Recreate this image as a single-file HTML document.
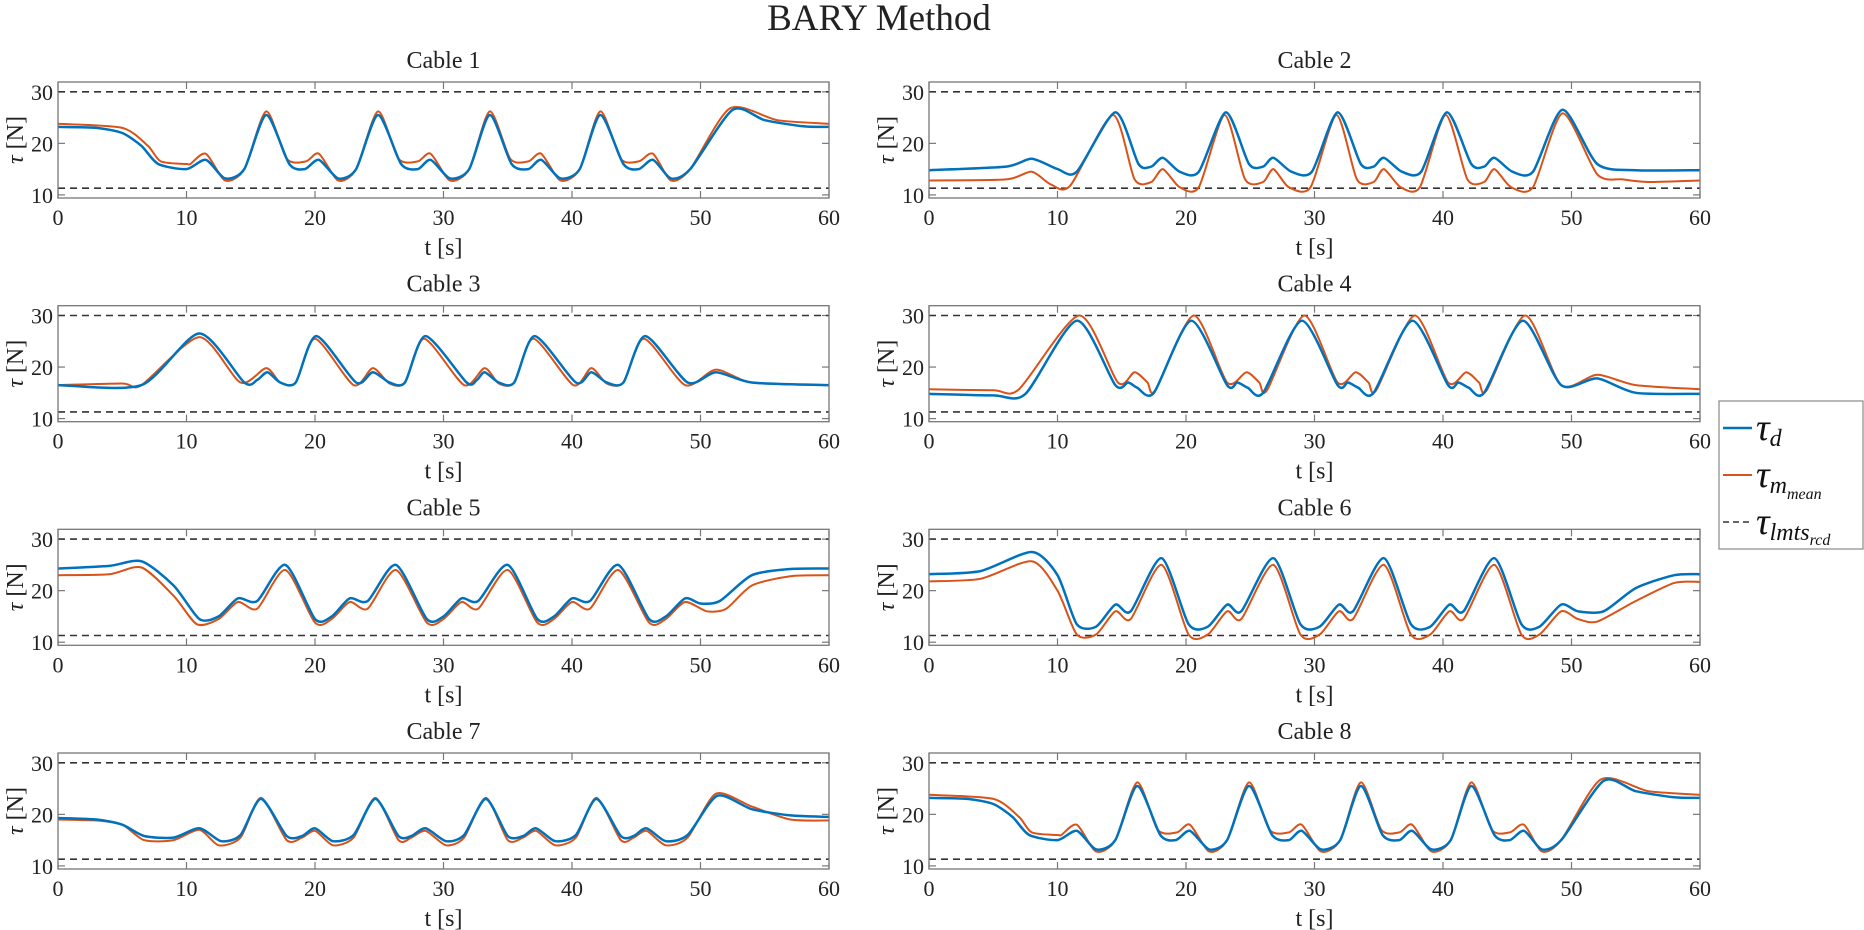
<!DOCTYPE html>
<html><head><meta charset="utf-8"><style>
body{margin:0;background:#fff;}
svg{display:block;font-family:"Liberation Serif","DejaVu Serif",serif;}
</style></head><body>
<svg id="fig" width="1864" height="930" viewBox="0 0 1864 930">
<text x="879" y="30" font-size="37" text-anchor="middle" fill="#222">BARY Method</text>
<g id="plots"></g>
<g>
<rect x="1719" y="401" width="144" height="148" fill="#fff" stroke="#888" stroke-width="1.2"/>
<line x1="1723" y1="428" x2="1752" y2="428" stroke="#0072BD" stroke-width="2.5"/>
<text x="1756" y="440" font-size="38" font-style="italic" fill="#111">τ<tspan font-size="24" dy="6">d</tspan></text>
<line x1="1723" y1="475" x2="1752" y2="475" stroke="#D95319" stroke-width="2"/>
<text x="1756" y="487" font-size="38" font-style="italic" fill="#111">τ<tspan font-size="24" dy="6">m</tspan><tspan font-size="16" dy="6">mean</tspan></text>
<line x1="1723" y1="522" x2="1752" y2="522" stroke="#333" stroke-width="1.6" stroke-dasharray="6,4"/>
<text x="1756" y="534" font-size="38" font-style="italic" fill="#111">τ<tspan font-size="24" dy="6">lmts</tspan><tspan font-size="16" dy="5">rcd</tspan></text>
</g>
</svg>
<script>
const xTicks=[0,10,20,30,40,50,60];
const yTicks=[10,20,30];
const limits=[30,11.3];
const cableNames=["Cable 1","Cable 2","Cable 3","Cable 4","Cable 5","Cable 6","Cable 7","Cable 8"];
const c1dT=[0,3,5,6.5,7.8,10,11.5,13,14.5,16.2,18,19.2,20.3,21.8,23.2,24.9,26.7,28,29,30.5,32,33.6,35.3,36.6,37.6,39.1,40.6,42.2,44,45.2,46.3,47.7,49.2,52.5,55,58,60];
const c1dV=[23.2,23,22,19.5,16,15,16.8,13.2,15,25.5,16,15,16.8,13.2,15,25.5,16,15,16.8,13.2,15,25.5,16,15,16.8,13.2,15,25.5,16,15,16.8,13.2,15,26.5,24.5,23.3,23.2];
const c1mT=[0,5,7,8,10,10.3,11.5,13,14.5,16.2,17.8,19.3,20.3,21.8,23.2,24.9,26.5,28,29,30.5,32,33.6,35.2,36.6,37.6,39.1,40.6,42.2,43.8,45.2,46.3,47.7,49.2,52.3,56,60];
const c1mV=[23.8,23,19.5,16.5,16,16,18,12.8,15,26.2,17,16.5,18,12.8,15,26.2,17,16.5,18,12.8,15,26.2,17,16.5,18,12.8,15,26.2,17,16.5,18,12.8,15,26.8,24.5,23.8];
const c2dT=[0,6,8,10,11.5,14.5,16.3,17.3,18.2,19.5,21,23.1,24.9,26,26.8,28.2,29.8,31.8,33.6,34.6,35.4,36.8,38.3,40.3,42.2,43.2,44,45.4,47,49.3,52,55,60];
const c2dV=[14.8,15.5,17,15,14.5,26,16,15.5,17.2,14.5,14.5,26,16,15.5,17.2,14.5,14.5,26,16,15.5,17.2,14.5,14.5,26,16,15.5,17.2,14.5,14.5,26.5,16,14.8,14.8];
const c2mT=[0,6,8,9.5,11,14.3,16,17.3,18.2,19.5,21,23,24.6,26,26.8,28,29.7,31.7,33.3,34.6,35.4,36.7,38.2,40.2,41.9,43.2,44,45.3,47,49.3,52,54,56,60];
const c2mV=[12.8,13,14.5,12,11.8,25.5,13,12.5,15,11.5,11.5,25.5,13,12.5,15,11.5,11.5,25.5,13,12.5,15,11.5,11.5,25.5,13,12.5,15,11.5,11.5,25.8,14,13,12.5,12.8];
const c3dT=[0,6.5,11,14.5,15.5,16.3,17.3,18.5,20.1,23.2,24.5,25.8,27,28.6,31.8,32.6,33.2,34.3,35.5,37.1,40.3,41.5,42.7,44,45.7,49,51.2,54,60];
const c3dV=[16.5,16.5,26.5,17,17.5,19,17,17,26,17,19,17,17,26,17,17.5,19,17,17,26,17,19,17,17,26,17,19,17,16.5];
const c3mT=[0,5,6.5,11,14.2,16.2,17.3,18.5,20,23,24.5,25.8,27,28.5,31.6,33.2,34.3,35.5,37,40.1,41.5,42.7,44,45.6,48.8,51.2,54,60];
const c3mV=[16.5,16.8,16.5,25.8,17,19.8,17,17,25.5,16.5,19.8,16.8,17,25.5,16.5,19.8,16.8,17,25.5,16.5,19.8,16.8,17,25.5,16.5,19.5,17,16.5];
const c4dT=[0,5,7.5,11.5,14.5,15.5,16.2,17.5,20.4,23.2,24,24.8,26,29,31.8,32.6,33.4,34.6,37.6,40.4,41.2,42,43.2,46.2,49.2,52,55,60];
const c4dV=[14.8,14.5,14.8,29,16.5,17,16,15,29,16.5,17,16,15,29,16.5,17,16,15,29,16.5,17,16,15,29,16.5,17.8,15,14.8];
const c4mT=[0,5,7,11.7,14.7,16,17,17.6,20.6,23.2,24.7,25.7,26.3,29.2,31.8,33.2,34.2,34.8,37.8,40.4,41.8,42.8,43.4,46.4,49.2,52,55,60];
const c4mV=[15.7,15.5,15.7,30,17,19,17,15.5,30,17,19,17,15.5,30,17,19,17,15.5,30,17,19,17,15.5,30,16.5,18.5,16.5,15.7];
const c5dT=[0,4,6.5,9,11,12.5,14,15.5,17.7,20,21.3,22.7,24.1,26.3,28.7,30,31.4,32.7,35,37.3,38.6,40,41.4,43.6,46,47.3,48.8,50,51.5,54,57,60];
const c5dV=[24.3,24.8,25.7,21,14.5,15,18.5,18,25,14.5,15,18.5,18,25,14.5,15,18.5,18,25,14.5,15,18.5,18,25,14.5,15,18.5,17.5,18,23,24.2,24.3];
const c5mT=[0,4,6.5,9,10.8,12.5,14,15.5,17.7,20,21.3,22.7,24.1,26.3,28.7,30,31.4,32.7,35,37.3,38.6,40,41.4,43.6,46,47.3,48.8,50.5,52,54,57,60];
const c5mV=[23,23.2,24.5,19,13.5,14.5,17.8,16.5,24,13.8,14.5,17.8,16.5,24,13.8,14.5,17.8,16.5,24,13.8,14.5,17.8,16.5,24,13.8,14.5,17.8,16,16.5,21,22.8,23];
const c6dT=[0,4,8,10,11.5,13,14.5,15.7,18.1,20.2,21.7,23.2,24.3,26.8,28.9,30.4,31.9,33,35.4,37.5,39,40.5,41.6,44,46.1,47.5,49.2,50.5,52.5,55,58,60];
const c6dV=[23.2,23.8,27.5,23,13.5,13,17.3,16,26.3,13.5,13,17.3,16,26.3,13.5,13,17.3,16,26.3,13.5,13,17.3,16,26.3,13.5,13,17.3,16,16,20.5,23,23.2];
const c6mT=[0,4,8,10,11.5,13,14.5,15.7,18.1,20.2,21.7,23.2,24.3,26.8,28.9,30.4,31.9,33,35.4,37.5,39,40.5,41.6,44,46.1,47.5,49.2,50.5,52,55,58,60];
const c6mV=[21.8,22.3,25.7,20,11.5,11.5,16,14.5,25,11.5,11.5,16,14.5,25,11.5,11.5,16,14.5,25,11.5,11.5,16,14.5,25,11.5,11.5,16,14.5,14,18,21.5,21.7];
const c7dT=[0,3,5,6.7,9,11,12.7,14.2,15.8,17.8,19,20,21.4,23,24.7,26.5,27.5,28.6,30.2,31.6,33.3,35,36.2,37.2,38.7,40.3,41.9,43.8,44.8,45.8,47.3,49,51.3,54,57,60];
const c7dV=[19.3,19,18,15.8,15.5,17.3,14.8,16,23,15.8,15.8,17.3,14.8,16,23,15.8,15.8,17.3,14.8,16,23,15.8,15.8,17.3,14.8,16,23,15.8,15.8,17.3,14.8,16,23.6,21,19.8,19.5];
const c7mT=[0,3,5,6.7,9,11,12.5,14.2,15.8,17.8,19,20,21.4,23,24.7,26.5,27.5,28.6,30.2,31.6,33.3,35,36.2,37.2,38.7,40.3,41.9,43.8,44.8,45.8,47.3,49,51.2,54,57,60];
const c7mV=[19,18.8,18,15,15,17,14,15.5,23.2,15,15.5,16.8,14,15.5,23.2,15,15.5,16.8,14,15.5,23.2,15,15.5,16.8,14,15.5,23.2,15,15.5,16.8,14,15.5,24,21.5,19,18.8];
const c8dT=[0,3,5,6.5,7.8,10,11.5,13,14.5,16.2,18,19.2,20.3,21.8,23.2,24.9,26.7,28,29,30.5,32,33.6,35.3,36.6,37.6,39.1,40.6,42.2,44,45.2,46.3,47.7,49.2,52.5,55,58,60];
const c8dV=[23.2,23,22,19.5,16,15,16.8,13.2,15,25.5,16,15,16.8,13.2,15,25.5,16,15,16.8,13.2,15,25.5,16,15,16.8,13.2,15,25.5,16,15,16.8,13.2,15,26.5,24.5,23.3,23.2];
const c8mT=[0,5,7,8,10,10.3,11.5,13,14.5,16.2,17.8,19.3,20.3,21.8,23.2,24.9,26.5,28,29,30.5,32,33.6,35.2,36.6,37.6,39.1,40.6,42.2,43.8,45.2,46.3,47.7,49.2,52.3,56,60];
const c8mV=[23.8,23,19.5,16.5,16,16,18,12.8,15,26.2,17,16.5,18,12.8,15,26.2,17,16.5,18,12.8,15,26.2,17,16.5,18,12.8,15,26.2,17,16.5,18,12.8,15,26.8,24.5,23.8];

const series=[[c1dT,c1dV,c1mT,c1mV],[c2dT,c2dV,c2mT,c2mV],[c3dT,c3dV,c3mT,c3mV],[c4dT,c4dV,c4mT,c4mV],[c5dT,c5dV,c5mT,c5mV],[c6dT,c6dV,c6mT,c6mV],[c7dT,c7dV,c7mT,c7mV],[c8dT,c8dV,c8mT,c8mV]];
const NS="http://www.w3.org/2000/svg";
const root=document.getElementById('plots');
function mk(tag,attrs,parent){const e=document.createElementNS(NS,tag);for(const k in attrs)e.setAttribute(k,attrs[k]);parent.appendChild(e);return e;}
function smoothPath(P){
  const k=1/8;let d='M'+P[0][0].toFixed(1)+','+P[0][1].toFixed(1);
  for(let i=0;i<P.length-1;i++){
    const p0=P[Math.max(0,i-1)],p1=P[i],p2=P[i+1],p3=P[Math.min(P.length-1,i+2)];
    const c1=[p1[0]+(p2[0]-p0[0])*k,p1[1]+(p2[1]-p0[1])*k];
    const c2=[p2[0]-(p3[0]-p1[0])*k,p2[1]-(p3[1]-p1[1])*k];
    d+='C'+c1[0].toFixed(1)+','+c1[1].toFixed(1)+' '+c2[0].toFixed(1)+','+c2[1].toFixed(1)+' '+p2[0].toFixed(1)+','+p2[1].toFixed(1);
  }
  return d;
}
const W=771,H=116,lefts=[58,929],tops=[82,305.7,529.3,753];
const yMin=9.4,yMax=31.9;
for(let i=0;i<8;i++){
  const L=lefts[i%2],T=tops[Math.floor(i/2)];
  const sx=t=>L+t/60*W, sy=v=>T+(yMax-v)/(yMax-yMin)*H;
  const g=mk('g',{},root);
  
  
  const ttl=mk('text',{x:L+W/2,y:T-14,'font-size':24,'text-anchor':'middle',fill:'#222'},g);
  ttl.textContent=cableNames[i];
  
  
  mk('rect',{x:L,y:T,width:W,height:H,fill:'#fff',stroke:'none'},g);
  xTicks.forEach(t=>{
    mk('line',{x1:sx(t),x2:sx(t),y1:T+H,y2:T+H-7,stroke:'#777','stroke-width':1.2},g);
    mk('line',{x1:sx(t),x2:sx(t),y1:T,y2:T+7,stroke:'#777','stroke-width':1.2},g);
    const tl=mk('text',{x:sx(t),y:T+H+27,'font-size':22,'text-anchor':'middle',fill:'#222'},g);
    tl.textContent=t;
    
    
  });
  yTicks.forEach(v=>{
    mk('line',{x1:L,x2:L+7,y1:sy(v),y2:sy(v),stroke:'#777','stroke-width':1.2},g);
    mk('line',{x1:L+W,x2:L+W-7,y1:sy(v),y2:sy(v),stroke:'#777','stroke-width':1.2},g);
    const tl=mk('text',{x:L-5,y:sy(v)+8,'font-size':22,'text-anchor':'end',fill:'#222'},g);
    tl.textContent=v;
    
    
  });
  const xl=mk('text',{x:L+W/2,y:T+H+57,'font-size':24,'text-anchor':'middle',fill:'#222'},g);
  xl.textContent='t [s]';
  
  
  const yl=mk('text',{x:0,y:0,'font-size':24,'text-anchor':'middle',fill:'#222',transform:`translate(${L-35},${T+H/2}) rotate(-90)`},g);
  yl.innerHTML='<tspan font-style="italic">τ</tspan> [N]';
  
  
  limits.forEach(v=>{
    const ln=mk('line',{x1:L,x2:L+W,y1:sy(v),y2:sy(v),stroke:'#333','stroke-width':1.6,'stroke-dasharray':'7,5'},g);
    
    
  });
  const [dT,dV,mT,mV]=series[i];
  const pd=smoothPath(dT.map((t,k)=>[sx(t),sy(dV[k])]));
  const pm=smoothPath(mT.map((t,k)=>[sx(t),sy(mV[k])]));
  const lm=mk('path',{d:pm,fill:'none',stroke:'#D95319','stroke-width':2,'stroke-linejoin':'round'},g);
  
  
  const ld=mk('path',{d:pd,fill:'none',stroke:'#0072BD','stroke-width':2.5,'stroke-linejoin':'round'},g);
  
  
  mk('rect',{x:L,y:T,width:W,height:H,fill:'none',stroke:'#777','stroke-width':1.3},g);
}
</script>
</body></html>
